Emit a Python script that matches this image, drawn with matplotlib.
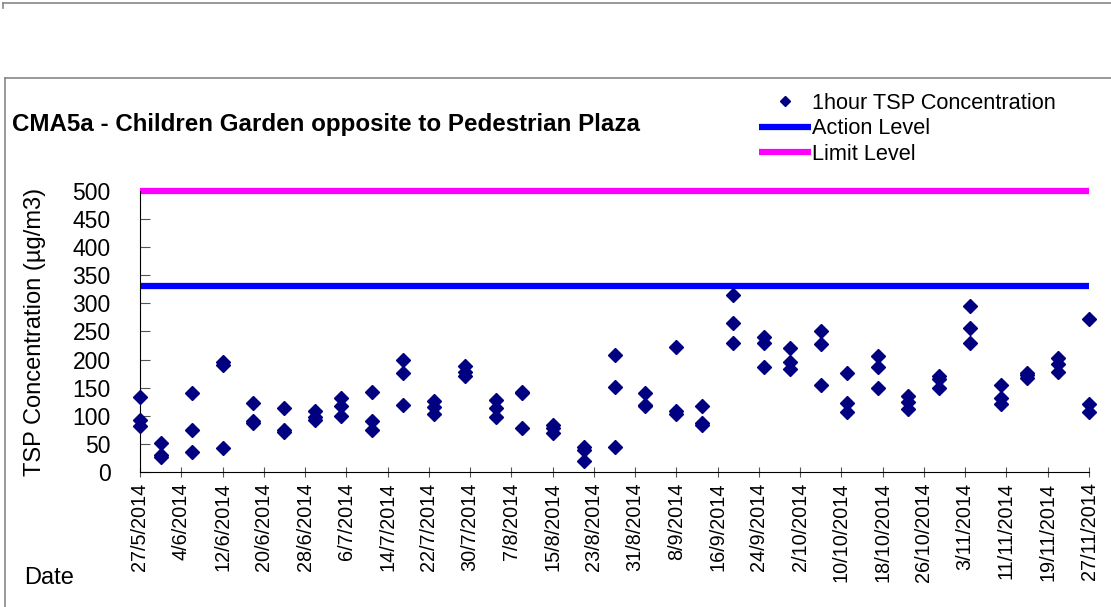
import datetime as dt
import matplotlib
matplotlib.use("Agg")
import matplotlib.pyplot as plt
from matplotlib.lines import Line2D

plt.rcParams['font.family'] = ['Liberation Sans', 'DejaVu Sans']

# sampling days counted from 27/5/2014, three 1-hour readings per day
start = dt.date(2014, 5, 27)
day_offsets = [0, 4, 10, 16, 22, 28, 34, 39, 45, 51, 57, 63, 69, 74, 80, 86,
               92, 98, 104, 109, 115, 121, 126, 132, 137, 143, 149, 155, 161,
               167, 172, 178, 184]
tsp_1hr = [
    [133, 92, 81], [52, 31, 27], [141, 75, 36], [196, 190, 43],
    [122, 90, 88], [113, 75, 72], [109, 97, 93], [131, 118, 100],
    [143, 91, 75], [200, 177, 119], [126, 116, 103], [189, 178, 170],
    [128, 113, 97], [143, 141, 78], [84, 78, 70], [44, 40, 19],
    [208, 152, 44], [140, 119, 118], [222, 109, 104], [118, 87, 84],
    [315, 265, 230], [240, 230, 187], [220, 196, 184], [251, 227, 154],
    [177, 122, 106], [206, 187, 149], [136, 125, 112], [171, 165, 150],
    [296, 257, 229], [155, 131, 121], [176, 172, 168], [203, 192, 178],
    [273, 121, 106],
]
action_level = 331
limit_level = 500
end = dt.date(2014, 11, 27)

xs, ys = [], []
for off, vals in zip(day_offsets, tsp_1hr):
    for v in vals:
        xs.append(start + dt.timedelta(days=off))
        ys.append(v)

tick_dates = [start + dt.timedelta(days=8 * i) for i in range(24)]
tick_labels = [f"{d.day}/{d.month}/{d.year}" for d in tick_dates]

fig = plt.figure(figsize=(11.11, 6.07), dpi=100)
W, H = 1111, 607
ax = fig.add_axes([140 / W, 1 - 472 / H, (1089 - 140) / W, (472 - 191) / H])

ax.plot(xs, ys, linestyle='none', marker='D', ms=7.2, color='#000080',
        label='1hour TSP Concentration', clip_on=False, zorder=3)
ax.plot([start, end], [action_level, action_level], color='#0000FF', lw=4.5,
        label='Action Level', solid_capstyle='butt', clip_on=False)
ax.plot([start, end], [limit_level, limit_level], color='#FF00FF', lw=4.5,
        label='Limit Level', solid_capstyle='butt', clip_on=False)

ax.set_xlim(start, end)
ax.set_ylim(0, 500)
ax.set_yticks(range(0, 501, 50))
ax.set_xticks(tick_dates)
ax.set_xticklabels(tick_labels, rotation=90, fontsize=14.3)
ax.tick_params(axis='y', direction='in', length=7, labelsize=16.5, pad=21,
               color='#555555')
ax.tick_params(axis='x', direction='inout', length=7, pad=4, color='#555555')
for s in ['top', 'right']:
    ax.spines[s].set_visible(False)
ax.set_ylabel('TSP Concentration (µg/m3)', fontsize=17, labelpad=19)

fig.text(24 / W, 1 - 578 / H, 'Date', fontsize=17, va='center')
fig.text(12 / W, 1 - 124 / H, 'CMA5a - Children Garden opposite to Pedestrian Plaza',
         fontsize=17.4, fontweight='bold', va='center')

leg = ax.legend(loc='upper left', bbox_to_anchor=(748 / W, 1 - 82 / H),
                bbox_transform=fig.transFigure, frameon=False, fontsize=15.7,
                handlelength=2.4, handletextpad=0.05, labelspacing=0.2,
                borderpad=0, markerscale=0.65)

# outer chart border
grey = '#888888'
fig.add_artist(Line2D([3 / W, 1], [1 - 3 / H, 1 - 3 / H], color=grey, lw=1.2))
fig.add_artist(Line2D([3 / W, 3 / W], [1 - 3 / H, 1 - 8 / H], color=grey, lw=1.2))
fig.add_artist(Line2D([5 / W, 1], [1 - 78 / H, 1 - 78 / H], color=grey, lw=1.2))
fig.add_artist(Line2D([5 / W, 5 / W], [1 - 78 / H, 0], color=grey, lw=1.2))

fig.savefig('out.png', dpi=100)
